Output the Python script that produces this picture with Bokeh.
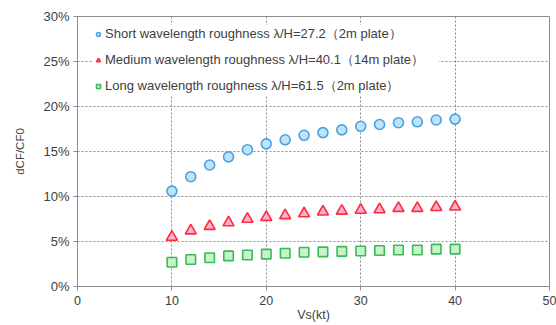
from bokeh.plotting import figure
from bokeh.models import Range1d, PrintfTickFormatter, FixedTicker, Legend, LegendItem
from bokeh.embed import file_html
from bokeh.resources import INLINE

vs = [10, 12, 14, 16, 18, 20, 22, 24, 26, 28, 30, 32, 34, 36, 38, 40]
short_wl = [10.6, 12.2, 13.5, 14.4, 15.2, 15.85, 16.3, 16.8, 17.1, 17.4, 17.8, 18.0, 18.2, 18.3, 18.5, 18.6]
medium_wl = [5.5, 6.2, 6.7, 7.1, 7.5, 7.7, 7.9, 8.1, 8.3, 8.4, 8.5, 8.55, 8.7, 8.7, 8.8, 8.85]
long_wl = [2.7, 3.0, 3.2, 3.4, 3.5, 3.6, 3.7, 3.8, 3.85, 3.9, 3.95, 4.0, 4.05, 4.05, 4.15, 4.15]
x_ticks = [0, 10, 20, 30, 40, 50]
y_ticks = [0, 5, 10, 15, 20, 25, 30]
labels = ["Short wavelength roughness \u03bb/H=27.2\uff082m plate\uff09",
          "Medium wavelength roughness \u03bb/H=40.1\uff0814m plate\uff09",
          "Long wavelength roughness \u03bb/H=61.5\uff082m plate\uff09"]

FONT = "Liberation Sans"
p = figure(width=556, height=325, output_backend="svg", toolbar_location=None,
           x_range=Range1d(0, 50), y_range=Range1d(0, 30),
           min_border_left=77, min_border_right=7, min_border_top=16, min_border_bottom=39)
p.background_fill_color = "white"
p.border_fill_color = "white"
p.outline_line_color = "#8c8c8c"
p.outline_line_width = 1

for ax in (p.xaxis[0], p.yaxis[0]):
    ax.axis_line_color = "#8c8c8c"
    ax.major_tick_line_color = "#8c8c8c"
    ax.major_tick_out = 4
    ax.major_tick_in = 0
    ax.minor_tick_line_color = None
    ax.major_label_text_font = FONT
    ax.major_label_text_color = "#404040"
    ax.axis_label_text_font = FONT
    ax.axis_label_text_font_style = "normal"
    ax.axis_label_text_color = "#404040"

p.xaxis.major_label_text_font_size = "12.5px"
p.yaxis.major_label_text_font_size = "13px"
p.xaxis.ticker = FixedTicker(ticks=x_ticks)
p.yaxis.ticker = FixedTicker(ticks=y_ticks)
p.yaxis.formatter = PrintfTickFormatter(format="%d%%")
p.xaxis.axis_label = "Vs(kt)"
p.yaxis.axis_label = "dCF/CF0"
p.xaxis.axis_label_text_font_size = "12.5px"
p.yaxis.axis_label_text_font_size = "11.5px"
p.xaxis.axis_label_standoff = 0
p.yaxis.axis_label_standoff = 14
p.xaxis.major_label_standoff = 5
p.yaxis.major_label_standoff = 4

for g in (p.xgrid[0], p.ygrid[0]):
    g.grid_line_color = "#8c8c8c"
    g.grid_line_dash = "2 2"
    g.grid_line_width = 1

r1 = p.scatter(vs, short_wl, marker="circle", size=10, fill_color="#bfe3f8",
               line_color="#4aa2e2", line_width=1.6)
r2 = p.scatter(vs, medium_wl, marker="triangle", size=11, fill_color="#f7b3d2",
               line_color="#ff2a3a", line_width=1.6)
r3 = p.scatter(vs, long_wl, marker="square", size=9.5, fill_color="#c8f3c8",
               line_color="#3cb95a", line_width=1.6)

legend = Legend(items=[LegendItem(label=labels[0], renderers=[r1]),
                       LegendItem(label=labels[1], renderers=[r2]),
                       LegendItem(label=labels[2], renderers=[r3])],
                location=(16, 191))
legend.background_fill_color = "white"
legend.background_fill_alpha = 1
legend.border_line_color = None
legend.label_text_font = FONT
legend.label_text_font_size = "13px"
legend.label_text_color = "#404040"
legend.glyph_width = 10
legend.glyph_height = 12
legend.label_height = 12
legend.label_width = 334
legend.label_standoff = 2
legend.spacing = 8
legend.padding = 3
legend.margin = 0
p.add_layout(legend, "center")

open("out.html", "w").write(file_html(p, INLINE))
